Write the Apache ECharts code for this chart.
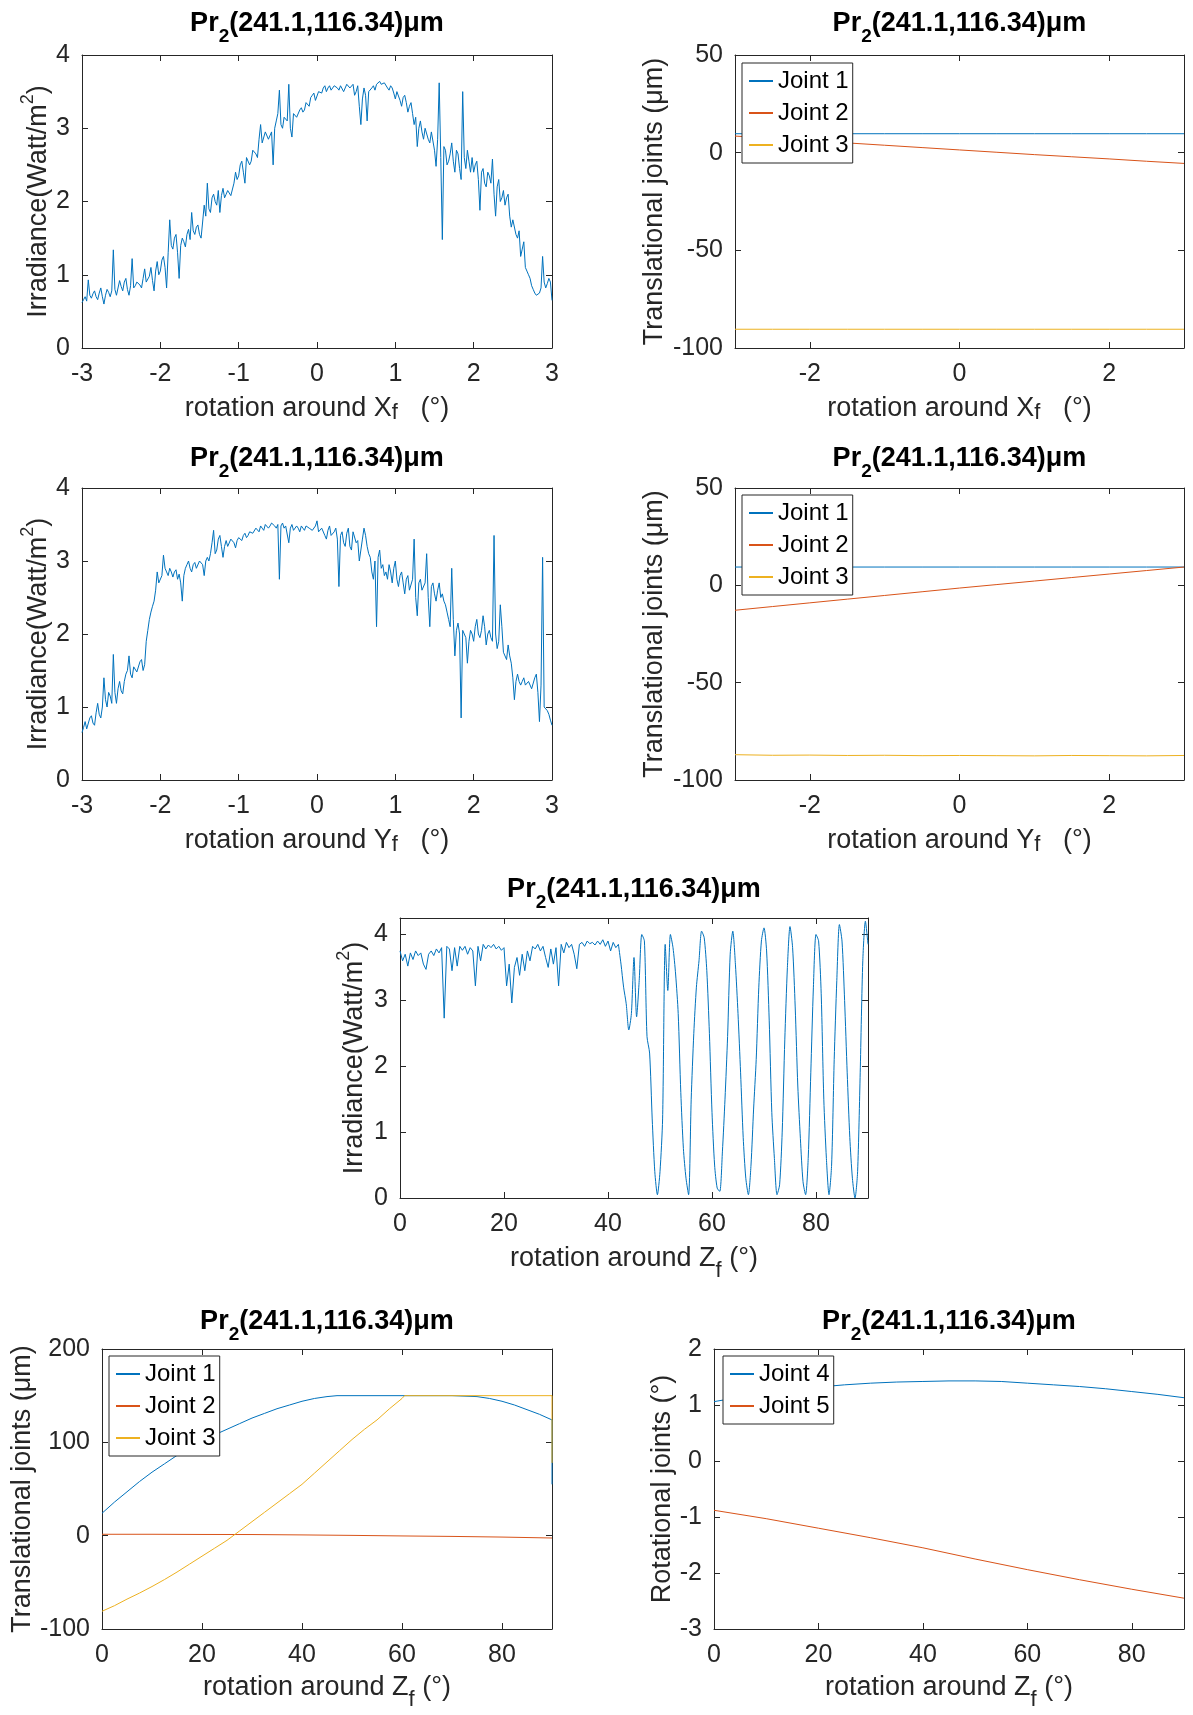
<!DOCTYPE html>
<html><head><meta charset="utf-8">
<script src="https://cdn.jsdelivr.net/npm/echarts@6.0.0/dist/echarts.min.js"></script>
<style>html,body{margin:0;padding:0;background:#fff}#c{width:1193px;height:1715px}</style>
</head><body><div id="c"></div>
<script>
// ---------------- DATA ----------------
// Irradiance vs rotation around Xf (x = -3 .. 3, step 0.02)
const irrXStart = -3, irrXStep = 0.02;
const irrX = [0.62,0.66,0.70,0.64,0.93,0.72,0.68,0.74,0.78,0.70,
 0.66,0.75,0.82,0.70,0.60,0.72,0.80,0.76,0.70,0.78,
 1.34,0.80,0.72,0.70,0.92,0.84,0.78,0.90,0.95,0.80,
 0.72,0.85,1.22,0.82,0.85,0.90,0.92,0.86,0.82,0.95,
 1.08,0.90,0.88,0.98,1.10,0.92,0.78,1.05,1.18,1.00,
 1.05,1.20,1.25,1.10,0.82,1.30,1.75,1.40,1.35,1.50,
 1.55,1.30,0.95,1.40,1.50,1.45,1.38,1.55,1.62,1.48,
 1.85,1.60,1.55,1.65,1.68,1.55,1.50,1.72,1.95,1.80,
 2.25,1.90,1.85,2.05,2.10,2.00,1.95,2.15,1.85,2.08,
 2.18,2.05,2.10,2.15,2.15,2.08,2.08,2.25,2.40,2.30,
 2.35,2.50,2.55,2.40,2.25,2.60,2.62,2.50,2.55,2.70,
 2.72,2.65,2.60,2.85,3.05,2.80,2.78,2.95,2.95,2.85,
 2.85,2.95,2.50,3.00,3.10,3.20,3.52,3.05,3.00,3.15,
 3.15,3.10,3.60,3.00,2.88,3.20,3.22,3.15,3.15,3.25,
 3.28,3.22,3.25,3.35,3.35,3.30,3.42,3.45,3.48,3.38,
 3.40,3.50,3.52,3.48,3.55,3.58,3.50,3.55,3.58,3.52,
 3.55,3.58,3.60,3.55,3.52,3.58,3.58,3.50,3.55,3.60,
 3.62,3.55,3.55,3.60,3.45,3.50,3.58,3.30,3.05,3.40,
 3.55,3.45,3.10,3.50,3.50,3.55,3.58,3.52,3.60,3.62,
 3.64,3.60,3.58,3.62,3.60,3.55,3.52,3.58,3.55,3.48,
 3.40,3.50,3.52,3.38,3.30,3.42,3.45,3.35,3.22,3.30,
 3.35,3.20,3.05,3.15,2.75,3.00,3.10,2.95,2.85,3.00,
 3.00,2.85,2.80,2.95,2.95,2.70,2.48,2.85,3.62,2.60,
 1.48,2.75,2.70,2.50,2.55,2.65,2.80,2.55,2.40,2.70,
 2.65,2.45,2.30,3.50,2.60,2.45,2.70,2.55,2.40,2.60,
 2.40,2.50,2.55,2.30,1.88,2.40,2.45,2.25,2.20,2.40,
 2.35,2.25,2.58,2.10,1.80,2.20,2.30,2.00,2.05,2.15,
 1.95,2.05,2.10,1.80,1.65,1.75,1.75,1.55,1.50,1.60,
 1.25,1.35,1.45,1.10,1.05,1.00,0.95,0.85,0.80,0.75,
 0.72,0.70,0.75,0.82,1.25,0.90,0.82,0.88,0.95,0.90,
 0.65];
// Irradiance vs rotation around Yf (x = -3 .. 3, step 0.02)
const irrYStart = -3, irrYStep = 0.02;
const irrY = [0.65,0.72,0.80,0.70,0.72,0.85,0.88,0.78,0.75,0.92,
 1.05,0.90,0.85,1.00,1.40,1.10,1.00,1.20,1.15,1.05,
 1.72,1.20,1.05,1.25,1.35,1.22,1.18,1.35,1.45,1.50,
 1.70,1.45,1.40,1.55,1.55,1.48,1.48,1.62,1.65,1.50,
 1.58,1.90,2.05,2.20,2.30,2.38,2.45,2.60,2.85,2.70,
 2.70,2.80,3.08,2.90,2.85,2.80,2.90,2.85,2.78,2.85,
 2.88,2.75,2.82,2.70,2.45,2.80,2.90,2.95,3.00,2.90,
 2.85,2.95,2.98,2.90,2.90,3.00,3.02,2.95,2.80,3.00,
 3.05,3.00,3.10,3.25,3.42,3.10,3.15,3.30,3.35,3.20,
 3.05,3.20,3.28,3.20,3.22,3.30,3.30,3.25,3.18,3.28,
 3.32,3.30,3.28,3.35,3.38,3.32,3.35,3.40,3.42,3.38,
 3.40,3.45,3.45,3.40,3.48,3.45,3.42,3.50,3.50,3.45,
 3.48,3.52,3.53,3.48,3.45,3.50,2.75,3.48,3.52,3.45,
 3.48,3.50,3.25,3.45,3.50,3.42,3.40,3.48,3.45,3.40,
 3.48,3.45,3.42,3.48,3.50,3.45,3.45,3.42,3.40,3.48,
 3.55,3.40,3.38,3.45,3.45,3.35,3.30,3.42,3.48,3.35,
 3.35,3.40,3.45,3.30,2.65,3.35,3.40,3.25,3.20,3.38,
 3.45,3.20,3.15,3.40,3.38,3.25,3.28,3.00,2.98,3.30,
 3.45,3.35,3.20,3.10,3.05,2.85,2.75,3.00,2.10,3.05,
 3.15,2.90,2.95,2.80,2.85,2.75,2.95,2.85,2.70,2.90,
 3.00,2.75,2.65,2.80,2.85,2.70,2.55,2.75,2.80,2.60,
 2.60,2.75,3.30,2.50,2.25,2.70,2.75,2.60,2.60,2.70,
 3.10,2.50,2.10,2.65,2.70,2.55,2.45,2.60,2.70,2.50,
 2.55,2.45,2.40,2.30,2.20,2.10,2.90,2.20,1.70,2.05,
 2.15,2.00,0.85,2.05,2.05,1.95,1.60,1.90,2.05,2.00,
 1.90,2.10,2.20,2.00,1.95,2.05,2.25,2.10,1.85,2.00,
 2.05,1.95,1.90,3.35,2.00,1.80,1.90,2.40,2.10,1.75,
 1.75,1.65,1.85,1.70,1.60,1.40,1.10,1.35,1.45,1.35,
 1.30,1.35,1.40,1.30,1.30,1.35,1.35,1.25,1.25,1.40,
 1.45,1.20,0.80,1.30,3.05,1.00,1.00,0.95,0.90,0.82,
 0.75];
// Irradiance vs rotation around Zf, part A (0 .. 42, step 0.5)
const irrZAStart = 0, irrZAStep = 0.5;
const irrZA = [3.75,3.60,3.70,3.52,3.72,3.62,3.75,3.68,3.72,3.55,
 3.47,3.70,3.75,3.68,3.78,3.72,3.80,2.73,3.82,3.78,
 3.45,3.80,3.52,3.82,3.76,3.82,3.70,3.80,3.75,3.22,
 3.82,3.60,3.85,3.78,3.84,3.80,3.85,3.78,3.82,3.76,
 3.80,3.22,3.55,2.96,3.50,3.65,3.38,3.70,3.45,3.75,
 3.60,3.82,3.78,3.85,3.75,3.82,3.65,3.50,3.78,3.55,
 3.80,3.22,3.85,3.72,3.88,3.80,3.85,3.70,3.48,3.85,
 3.88,3.82,3.90,3.86,3.88,3.84,3.90,3.85,3.92,3.82,
 3.90,3.75,3.88,3.80,3.85];
// part B (42.5 .. 90, step 0.5)
const irrZBStart = 42.5, irrZBStep = 0.5;
const irrZB = [3.55,3.20,2.95,2.55,2.80,3.65,2.75,3.30,4.00,3.90,
 2.45,2.20,1.20,0.40,0.05,0.40,1.20,3.85,3.15,4.00,
 3.80,3.40,2.80,1.60,0.75,0.30,0.05,1.50,2.50,3.20,
 3.60,4.05,3.95,3.45,2.50,1.30,0.50,0.15,0.10,0.70,
 1.50,2.45,3.70,4.05,3.55,2.80,1.90,0.92,0.30,0.05,
 0.50,1.35,2.10,3.20,3.90,4.10,3.75,2.70,1.30,0.60,
 0.05,0.20,1.00,2.40,3.50,4.12,3.80,2.90,1.70,0.90,
 0.25,0.05,0.60,1.90,3.20,4.00,3.90,3.10,1.50,0.60,
 0.05,0.50,2.10,3.30,4.15,3.90,3.00,1.90,0.92,0.30,
 0.00,0.40,1.90,3.60,4.20,3.85];

// Translational joints vs rotation around Xf
const jX = [-3,-2.5,-2,-1.5,-1,-0.5,0,0.5,1,1.5,2,2.5,3];
const jxJ1 = [9.7,9.7,9.7,9.7,9.7,9.7,9.7,9.7,9.7,9.7,9.7,9.7,9.7];
const jxJ2 = [8.5,7.3,6.2,5.0,3.8,2.6,1.4,0.2,-1.0,-2.1,-3.2,-4.4,-5.5];
const jxJ3 = [-90.4,-90.4,-90.4,-90.4,-90.4,-90.4,-90.4,-90.4,-90.4,-90.4,-90.4,-90.4,-90.4];
// Translational joints vs rotation around Yf
const jyJ1 = [9.4,9.4,9.4,9.4,9.4,9.4,9.4,9.4,9.4,9.4,9.4,9.4,9.4];
const jyJ2 = [-12.8,-10.9,-9.0,-7.1,-5.2,-3.3,-1.4,0.4,2.2,4.0,5.8,7.6,9.4];
const jyJ3 = [-87.0,-87.3,-87.2,-87.4,-87.3,-87.5,-87.4,-87.5,-87.6,-87.4,-87.5,-87.6,-87.4];
// Translational joints vs rotation around Zf
const zJ1X = [0,2.5,5,7.5,10,12.5,15,17.5,20,22.5,25,27.5,30,32.5,35,37.5,40,42.5,45,47,50,55,60,65,70,75,77.5,80,82.5,85,87.5,90,90];
const zJ1  = [24,36,47,58,68,77,86,94,101,108,114,120,126,131,136,140,144,147,149,150,150,150,150,150,150,149,147,144,140,135,130,124,55];
const zJ2X = [0,10,20,30,40,50,60,70,80,90];
const zJ2  = [1.5,1.5,1.3,1.2,0.8,0.3,-0.3,-0.8,-1.5,-2.5];
const zJ3X = [0,2.5,5,7.5,10,12.5,15,17.5,20,22.5,25,27.5,30,32.5,35,37.5,40,42.5,45,47.5,50,52.5,55,57.5,60,60.5,70,80,90,90];
const zJ3  = [-81,-75,-68,-61.5,-54.5,-47,-39,-30.5,-22,-13.5,-5,5,15,25,35,45,55,67,79,91,103,114,124,136,147,150,150,150,150,78];
// Rotational joints vs rotation around Zf
const zJ4X = [0,5,10,15,20,25,30,35,40,45,50,55,60,65,70,75,80,85,90];
const zJ4  = [1.06,1.14,1.21,1.27,1.32,1.36,1.39,1.41,1.42,1.43,1.43,1.42,1.39,1.36,1.33,1.29,1.24,1.19,1.13];
const zJ5X = [0,10,20,30,40,50,60,70,80,90];
const zJ5  = [-0.88,-1.03,-1.20,-1.37,-1.55,-1.75,-1.94,-2.12,-2.29,-2.45];

const xTicks3 = [-3,-2,-1,0,1,2,3];
const xTicksJ = [-2,0,2];
const zTicks = [0,20,40,60,80];

// ---------------- BUILD ----------------
const FONT = '"Liberation Sans", Arial, Helvetica, sans-serif';
const AX = '#262626';
const C1 = '#0072BD', C2 = '#D95319', C3 = '#EDB120';
const grids = [], xAxes = [], yAxes = [], series = [], titles = [], legends = [];

const pairsStep = (start, step, arr) => arr.map((v, i) => [+(start + step * i).toFixed(4), v]);
const pairsXY = (xs, ys) => ys.map((v, i) => [xs[i], v]);

const XRICH = {
  a: {fontSize: 27, lineHeight: 27, verticalAlign: 'top', color: AX, fontFamily: FONT},
  s: {fontSize: 22, lineHeight: 29, verticalAlign: 'bottom', color: AX, fontFamily: FONT},
  z: {fontSize: 22, lineHeight: 37, verticalAlign: 'bottom', color: AX, fontFamily: FONT}
};
const YRICH = {
  a: {fontSize: 27, lineHeight: 27, verticalAlign: 'bottom', color: AX, fontFamily: FONT},
  p: {fontSize: 18, lineHeight: 33, verticalAlign: 'top', color: AX, fontFamily: FONT}
};
const TRICH = {
  a: {fontSize: 27, fontWeight: 'bold', lineHeight: 30, verticalAlign: 'top', color: '#000', fontFamily: FONT},
  s: {fontSize: 19, fontWeight: 'bold', lineHeight: 36, verticalAlign: 'bottom', color: '#000', fontFamily: FONT}
};
const TITLE = '{a|Pr}{s|2}{a|(241.1,116.34)μm}';

function panel(p) {
  const gi = grids.length;
  grids.push({left: p.l, top: p.t, width: p.w, height: p.h});
  const xi = xAxes.length, yi = yAxes.length;
  const line = {onZero: false, lineStyle: {color: AX, width: 1}};
  const tick = v => ({inside: true, length: 6, customValues: v, lineStyle: {color: AX, width: 1}});
  xAxes.push({type: 'value', gridIndex: gi, position: 'bottom', min: p.xmin, max: p.xmax,
    axisLine: line, axisTick: tick(p.xt),
    axisLabel: {customValues: p.xt, fontSize: 25, color: AX, margin: 14, fontFamily: FONT},
    splitLine: {show: false},
    name: p.xname, nameLocation: 'middle', nameGap: p.xgap, nameTextStyle: {rich: XRICH}});
  xAxes.push({type: 'value', gridIndex: gi, position: 'top', min: p.xmin, max: p.xmax,
    axisLine: line, axisTick: tick(p.xt), axisLabel: {show: false}, splitLine: {show: false}});
  yAxes.push({type: 'value', gridIndex: gi, position: 'left', min: p.ymin, max: p.ymax,
    axisLine: line, axisTick: tick(p.yt),
    axisLabel: {customValues: p.yt, fontSize: 25, color: AX, margin: 12, fontFamily: FONT},
    splitLine: {show: false},
    name: p.yname, nameLocation: 'middle', nameGap: p.ygap, nameTextStyle: {rich: YRICH}});
  yAxes.push({type: 'value', gridIndex: gi, position: 'right', min: p.ymin, max: p.ymax,
    axisLine: line, axisTick: tick(p.yt), axisLabel: {show: false}, splitLine: {show: false}});
  titles.push({text: TITLE, left: p.l + p.w / 2, top: p.tt, textAlign: 'center', padding: 0,
    textStyle: {rich: TRICH}});
  p.series.forEach(s => series.push({type: 'line', name: s.name, xAxisIndex: xi, yAxisIndex: yi,
    data: s.data, symbol: 'none', showSymbol: false, smooth: s.smooth || false,
    lineStyle: {color: s.color, width: 1}, itemStyle: {color: s.color},
    animation: false, z: 2}));
  if (p.legend) {
    legends.push({orient: 'vertical', left: p.legend.l, top: p.legend.t, data: p.legend.names,
      backgroundColor: '#fff', borderColor: AX, borderWidth: 1, borderRadius: 0,
      padding: [4, 4, 4, 6], itemGap: 4, itemWidth: 24, itemHeight: 14,
      selectedMode: false, z: 10,
      itemStyle: {opacity: 0},
      textStyle: {fontSize: 24, color: '#000', fontFamily: FONT, lineHeight: 28}});
  }
}

const yIrr = '{a|Irradiance(Watt/m}{p|2}{a|)}';
const yTr = '{a|Translational joints (μm)}';
const yRot = '{a|Rotational joints (°)}';
const xX = '{a|rotation around X}{s|f}{a|   (°)}';
const xY = '{a|rotation around Y}{s|f}{a|   (°)}';
const xZ = '{a|rotation around Z}{z|f}{a| (°)}';

panel({l: 82, t: 55, w: 470, h: 293, tt: 10, xmin: -3, xmax: 3, xt: xTicks3, ymin: 0, ymax: 4, yt: [0,1,2,3,4],
  xname: xX, xgap: 47, yname: yIrr, ygap: 24,
  series: [{name: 'irrX', color: C1, data: pairsStep(irrXStart, irrXStep, irrX)}]});
panel({l: 735, t: 55, w: 449, h: 293, tt: 10, xmin: -3, xmax: 3, xt: xTicksJ, ymin: -100, ymax: 50, yt: [-100,-50,0,50],
  xname: xX, xgap: 47, yname: yTr, ygap: 67,
  series: [{name: 'Joint 1', color: C1, data: pairsXY(jX, jxJ1)},
           {name: 'Joint 2', color: C2, data: pairsXY(jX, jxJ2)},
           {name: 'Joint 3', color: C3, data: pairsXY(jX, jxJ3)}],
  legend: {l: 742, t: 63, names: ['Joint 1','Joint 2','Joint 3']}});
panel({l: 82, t: 488, w: 470, h: 292, tt: 445, xmin: -3, xmax: 3, xt: xTicks3, ymin: 0, ymax: 4, yt: [0,1,2,3,4],
  xname: xY, xgap: 47, yname: yIrr, ygap: 24,
  series: [{name: 'irrY', color: C1, data: pairsStep(irrYStart, irrYStep, irrY)}]});
panel({l: 735, t: 488, w: 449, h: 292, tt: 445, xmin: -3, xmax: 3, xt: xTicksJ, ymin: -100, ymax: 50, yt: [-100,-50,0,50],
  xname: xY, xgap: 47, yname: yTr, ygap: 67,
  series: [{name: 'Joint 1', color: C1, data: pairsXY(jX, jyJ1)},
           {name: 'Joint 2', color: C2, data: pairsXY(jX, jyJ2)},
           {name: 'Joint 3', color: C3, data: pairsXY(jX, jyJ3)}],
  legend: {l: 742, t: 495, names: ['Joint 1','Joint 2','Joint 3']}});
panel({l: 400, t: 918, w: 468, h: 280, tt: 876, xmin: 0, xmax: 90, xt: zTicks, ymin: 0, ymax: 4.25, yt: [0,1,2,3,4],
  xname: xZ, xgap: 47, yname: yIrr, ygap: 32,
  series: [{name: 'irrZA', color: C1, data: pairsStep(irrZAStart, irrZAStep, irrZA)},
           {name: 'irrZB', color: C1, smooth: 0.25,
            data: [[irrZAStart + irrZAStep * (irrZA.length - 1), irrZA[irrZA.length - 1]]].concat(pairsStep(irrZBStart, irrZBStep, irrZB))}]});
panel({l: 102, t: 1349, w: 450, h: 280, tt: 1308, xmin: 0, xmax: 90, xt: zTicks, ymin: -100, ymax: 200, yt: [-100,0,100,200],
  xname: xZ, xgap: 45, yname: yTr, ygap: 65,
  series: [{name: 'Joint 1', color: C1, data: pairsXY(zJ1X, zJ1)},
           {name: 'Joint 2', color: C2, data: pairsXY(zJ2X, zJ2)},
           {name: 'Joint 3', color: C3, data: pairsXY(zJ3X, zJ3)}],
  legend: {l: 109, t: 1356, names: ['Joint 1','Joint 2','Joint 3']}});
panel({l: 714, t: 1349, w: 470, h: 280, tt: 1308, xmin: 0, xmax: 90, xt: zTicks, ymin: -3, ymax: 2, yt: [-3,-2,-1,0,1,2],
  xname: xZ, xgap: 45, yname: yRot, ygap: 33,
  series: [{name: 'Joint 4', color: C1, data: pairsXY(zJ4X, zJ4)},
           {name: 'Joint 5', color: C2, data: pairsXY(zJ5X, zJ5)}],
  legend: {l: 723, t: 1356, names: ['Joint 4','Joint 5']}});

const chart = echarts.init(document.getElementById('c'), null, {renderer: 'canvas'});
chart.setOption({
  backgroundColor: '#fff',
  animation: false,
  textStyle: {fontFamily: FONT},
  title: titles, grid: grids, xAxis: xAxes, yAxis: yAxes, legend: legends, series: series
});
</script></body></html>
